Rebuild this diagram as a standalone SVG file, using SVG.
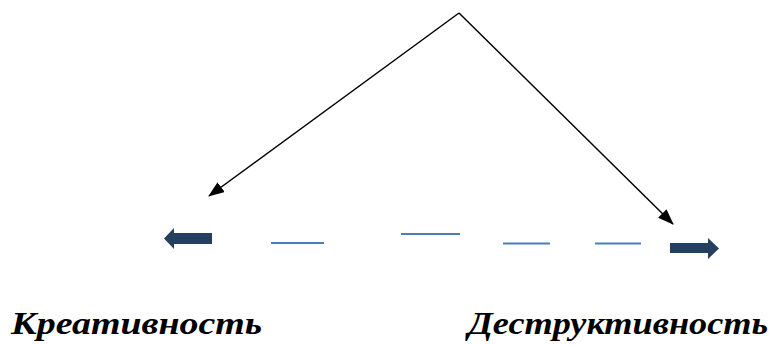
<svg xmlns="http://www.w3.org/2000/svg" width="777" height="345" viewBox="0 0 777 345">
<style>
.conn{stroke:#000;stroke-width:1.5;fill:none}
.dash{stroke:#4a7ebb;stroke-width:2}
.block{fill:#243f60}
.lbl{font-family:"Liberation Serif",serif;font-weight:700;font-style:italic;font-size:32px;fill:#000}
</style>
<defs>
<marker id="ah" markerWidth="16" markerHeight="12" refX="15" refY="6" orient="auto" markerUnits="userSpaceOnUse" viewBox="0 0 16 12">
<path d="M0,0 L16,6 L0,12 z" fill="#000"/>
</marker>
</defs>
<rect width="777" height="345" fill="#fff"/>
<g id="connectors">
<path class="conn" d="M459,13 L209,196" marker-end="url(#ah)"/>
<path class="conn" d="M459,13 L673,224" marker-end="url(#ah)"/>
</g>
<g id="scale">
<path class="block" d="M212,233 L174,233 L174,228 L164,238.5 L174,249 L174,244 L212,244 z"/>
<path class="block" d="M670,243 L708,243 L708,238 L719,248.5 L708,259 L708,253 L670,253 z"/>
<line class="dash" x1="271" y1="243" x2="324" y2="243"/>
<line class="dash" x1="401" y1="234" x2="460" y2="234"/>
<line class="dash" x1="503" y1="243.5" x2="550" y2="243.5"/>
<line class="dash" x1="595" y1="243.5" x2="641" y2="243.5"/>
</g>
<g id="label-left"><text class="lbl" x="11" y="334" textLength="251" lengthAdjust="spacingAndGlyphs">Креативность</text></g>
<g id="label-right"><text class="lbl" x="468" y="334" textLength="300" lengthAdjust="spacingAndGlyphs">Деструктивность</text></g>
</svg>
